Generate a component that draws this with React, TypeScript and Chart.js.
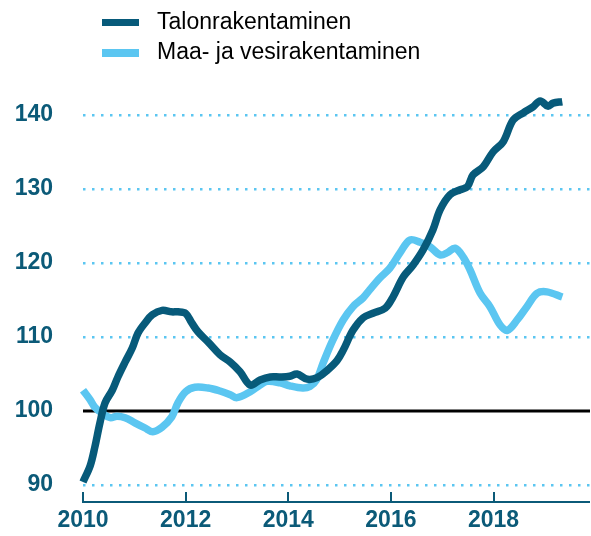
import React, { useEffect, useRef } from "react";
import { Chart, registerables } from "chart.js";

Chart.register(...registerables);

const seriesNames = ["Talonrakentaminen", "Maa- ja vesirakentaminen"];

const darkYears = [
  2010.0, 2010.14, 2010.23, 2010.33, 2010.43, 2010.57, 2010.68, 2010.82, 2010.96,
  2011.07, 2011.21, 2011.35, 2011.54, 2011.73, 2011.85, 2012.0, 2012.12, 2012.24,
  2012.44, 2012.67, 2012.87, 2013.06, 2013.26, 2013.45, 2013.65, 2013.84, 2014.03,
  2014.17, 2014.37, 2014.56, 2014.76, 2014.95, 2015.07, 2015.26, 2015.46, 2015.65,
  2015.89, 2016.04, 2016.24, 2016.43, 2016.63, 2016.82, 2016.96, 2017.15, 2017.35,
  2017.49, 2017.6, 2017.8, 2017.99, 2018.19, 2018.38, 2018.58, 2018.77, 2018.91,
  2019.06, 2019.16, 2019.34,
];
const darkValues = [
  90.4, 92.6, 95.1, 98.4, 101.1, 102.8, 104.6, 106.6, 108.5,
  110.5, 111.9, 113.0, 113.6, 113.4, 113.4, 113.2, 111.9, 110.7,
  109.3, 107.6, 106.6, 105.3, 103.5, 104.2, 104.6, 104.6, 104.7,
  105.0, 104.3, 104.5, 105.5, 106.8, 108.2, 110.9, 112.6, 113.2,
  113.9, 115.4, 118.1, 119.7, 121.8, 124.5, 127.2, 129.2, 129.9,
  130.3, 131.9, 133.0, 135.0, 136.4, 139.3, 140.3, 141.1, 141.9,
  141.2, 141.6, 141.8,
];

const lightYears = [
  2010.0, 2010.14, 2010.23, 2010.37, 2010.53, 2010.66, 2010.82, 2011.01, 2011.21,
  2011.36, 2011.54, 2011.73, 2011.85, 2012.0, 2012.18, 2012.44, 2012.67, 2012.87,
  2013.0, 2013.26, 2013.45, 2013.59, 2013.84, 2014.03, 2014.28, 2014.42, 2014.55,
  2014.68, 2014.87, 2015.07, 2015.26, 2015.46, 2015.59, 2015.79, 2015.98, 2016.18,
  2016.37, 2016.57, 2016.76, 2016.96, 2017.1, 2017.25, 2017.41, 2017.54, 2017.74,
  2017.93, 2018.13, 2018.27, 2018.46, 2018.65, 2018.85, 2019.04, 2019.34,
];
const lightValues = [
  102.8, 101.5, 100.5, 99.7, 99.1, 99.3, 99.1, 98.4, 97.7,
  97.2, 97.8, 99.2, 101.1, 102.6, 103.2, 103.1, 102.7, 102.2,
  101.8, 102.6, 103.5, 104.0, 103.8, 103.4, 103.1, 103.3, 104.2,
  106.5, 109.6, 112.3, 114.1, 115.3, 116.4, 118.0, 119.3, 121.4,
  123.1, 122.8, 122.2, 121.1, 121.4, 122.0, 120.8, 119.1, 115.9,
  114.1, 111.6, 110.9, 112.3, 114.1, 115.9, 116.1, 115.4,
];

const xTicks = [2010, 2012, 2014, 2016, 2018];
const yTicks = [90, 100, 110, 120, 130, 140];
const baseValue = 100;

const DARK = "#075a7a";
const LIGHT = "#5bc6f1";
const LABEL = "#0b5a78";
const FONT = "'Liberation Sans', Arial, Helvetica, sans-serif";

const App = () => {
  const canvasRef = useRef<HTMLCanvasElement | null>(null);

  useEffect(() => {
    if (!canvasRef.current) return;

    const overlay = {
      id: "overlay",
      beforeDatasetsDraw(chart: any) {
        const { ctx, chartArea, scales } = chart;
        const y = scales.y.getPixelForValue(baseValue);
        ctx.save();
        ctx.strokeStyle = "#000000";
        ctx.lineWidth = 3;
        ctx.beginPath();
        ctx.moveTo(chartArea.left, y);
        ctx.lineTo(chartArea.right, y);
        ctx.stroke();
        ctx.restore();
      },
      afterDatasetsDraw(chart: any) {
        const { ctx, chartArea, scales } = chart;
        const yb = chartArea.bottom;
        ctx.save();
        ctx.strokeStyle = LABEL;
        ctx.lineWidth = 2;
        ctx.beginPath();
        ctx.moveTo(chartArea.left - 1, yb);
        ctx.lineTo(chartArea.right, yb);
        xTicks.forEach((t) => {
          const x = Math.round(scales.x.getPixelForValue(t));
          ctx.moveTo(x, yb);
          ctx.lineTo(x, yb - 10);
        });
        ctx.stroke();
        ctx.restore();
      },
    };

    const lineStyle = {
      borderWidth: 7.5,
      pointRadius: 0,
      tension: 0.35,
      borderJoinStyle: "round" as const,
      borderCapStyle: "butt" as const,
      clip: false as any,
    };

    const chart = new Chart(canvasRef.current, {
      type: "line",
      data: {
        datasets: [
          {
            label: seriesNames[0],
            data: darkYears.map((x, i) => ({ x, y: darkValues[i] })),
            borderColor: DARK,
            backgroundColor: DARK,
            ...lineStyle,
          },
          {
            label: seriesNames[1],
            data: lightYears.map((x, i) => ({ x, y: lightValues[i] })),
            borderColor: LIGHT,
            backgroundColor: LIGHT,
            ...lineStyle,
          },
        ],
      },
      options: {
        animation: false,
        responsive: false,
        maintainAspectRatio: false,
        layout: { padding: { top: 70.6, right: 1, left: 0, bottom: 0 } },
        plugins: {
          legend: { display: false },
          tooltip: { enabled: false },
        },
        scales: {
          x: {
            type: "linear",
            min: 2010,
            max: 2019.88,
            afterBuildTicks: (scale: any) => {
              scale.ticks = xTicks.map((v) => ({ value: v }));
            },
            afterFit: (scale: any) => {
              scale.height = 34;
            },
            grid: { display: false, drawTicks: false },
            border: { display: false },
            ticks: {
              color: LABEL,
              font: { family: FONT, size: 23, weight: "bold" },
              padding: 5,
              maxRotation: 0,
              autoSkip: false,
              callback: (v: any) => String(v),
            },
          },
          y: {
            type: "linear",
            min: 87.7,
            max: 146,
            afterBuildTicks: (scale: any) => {
              scale.ticks = yTicks.map((v) => ({ value: v }));
            },
            afterFit: (scale: any) => {
              scale.width = 83;
            },
            grid: {
              drawTicks: true,
              tickLength: 30,
              tickColor: "rgba(0,0,0,0)",
              lineWidth: 2.5,
              color: (ctx: any) =>
                ctx.tick && ctx.tick.value === baseValue ? "rgba(0,0,0,0)" : LIGHT,
            },
            border: { display: false, dash: [2.5, 6.5] },
            ticks: {
              color: LABEL,
              font: { family: FONT, size: 23, weight: "bold" },
              padding: 0,
              callback: (v: any) => String(v),
            },
          },
        },
      },
      plugins: [overlay],
    });

    return () => chart.destroy();
  }, []);

  const legendText: React.CSSProperties = {
    position: "absolute",
    left: 157,
    fontFamily: FONT,
    fontSize: 23,
    lineHeight: "23px",
    color: "#000",
    whiteSpace: "nowrap",
  };

  return (
    <div
      style={{
        position: "absolute",
        left: 0,
        top: 0,
        width: 591,
        height: 536,
        background: "#fff",
      }}
    >
      <canvas
        ref={canvasRef}
        width={591}
        height={536}
        style={{ position: "absolute", left: 0, top: 0, width: 591, height: 536 }}
      />
      <div style={{ position: "absolute", left: 102, top: 18.5, width: 37, height: 7.5, background: DARK }} />
      <div style={{ ...legendText, top: 9.8 }}>{seriesNames[0]}</div>
      <div style={{ position: "absolute", left: 102, top: 49.3, width: 37, height: 7.5, background: LIGHT }} />
      <div style={{ ...legendText, top: 39.8 }}>{seriesNames[1]}</div>
    </div>
  );
};

export default App;
